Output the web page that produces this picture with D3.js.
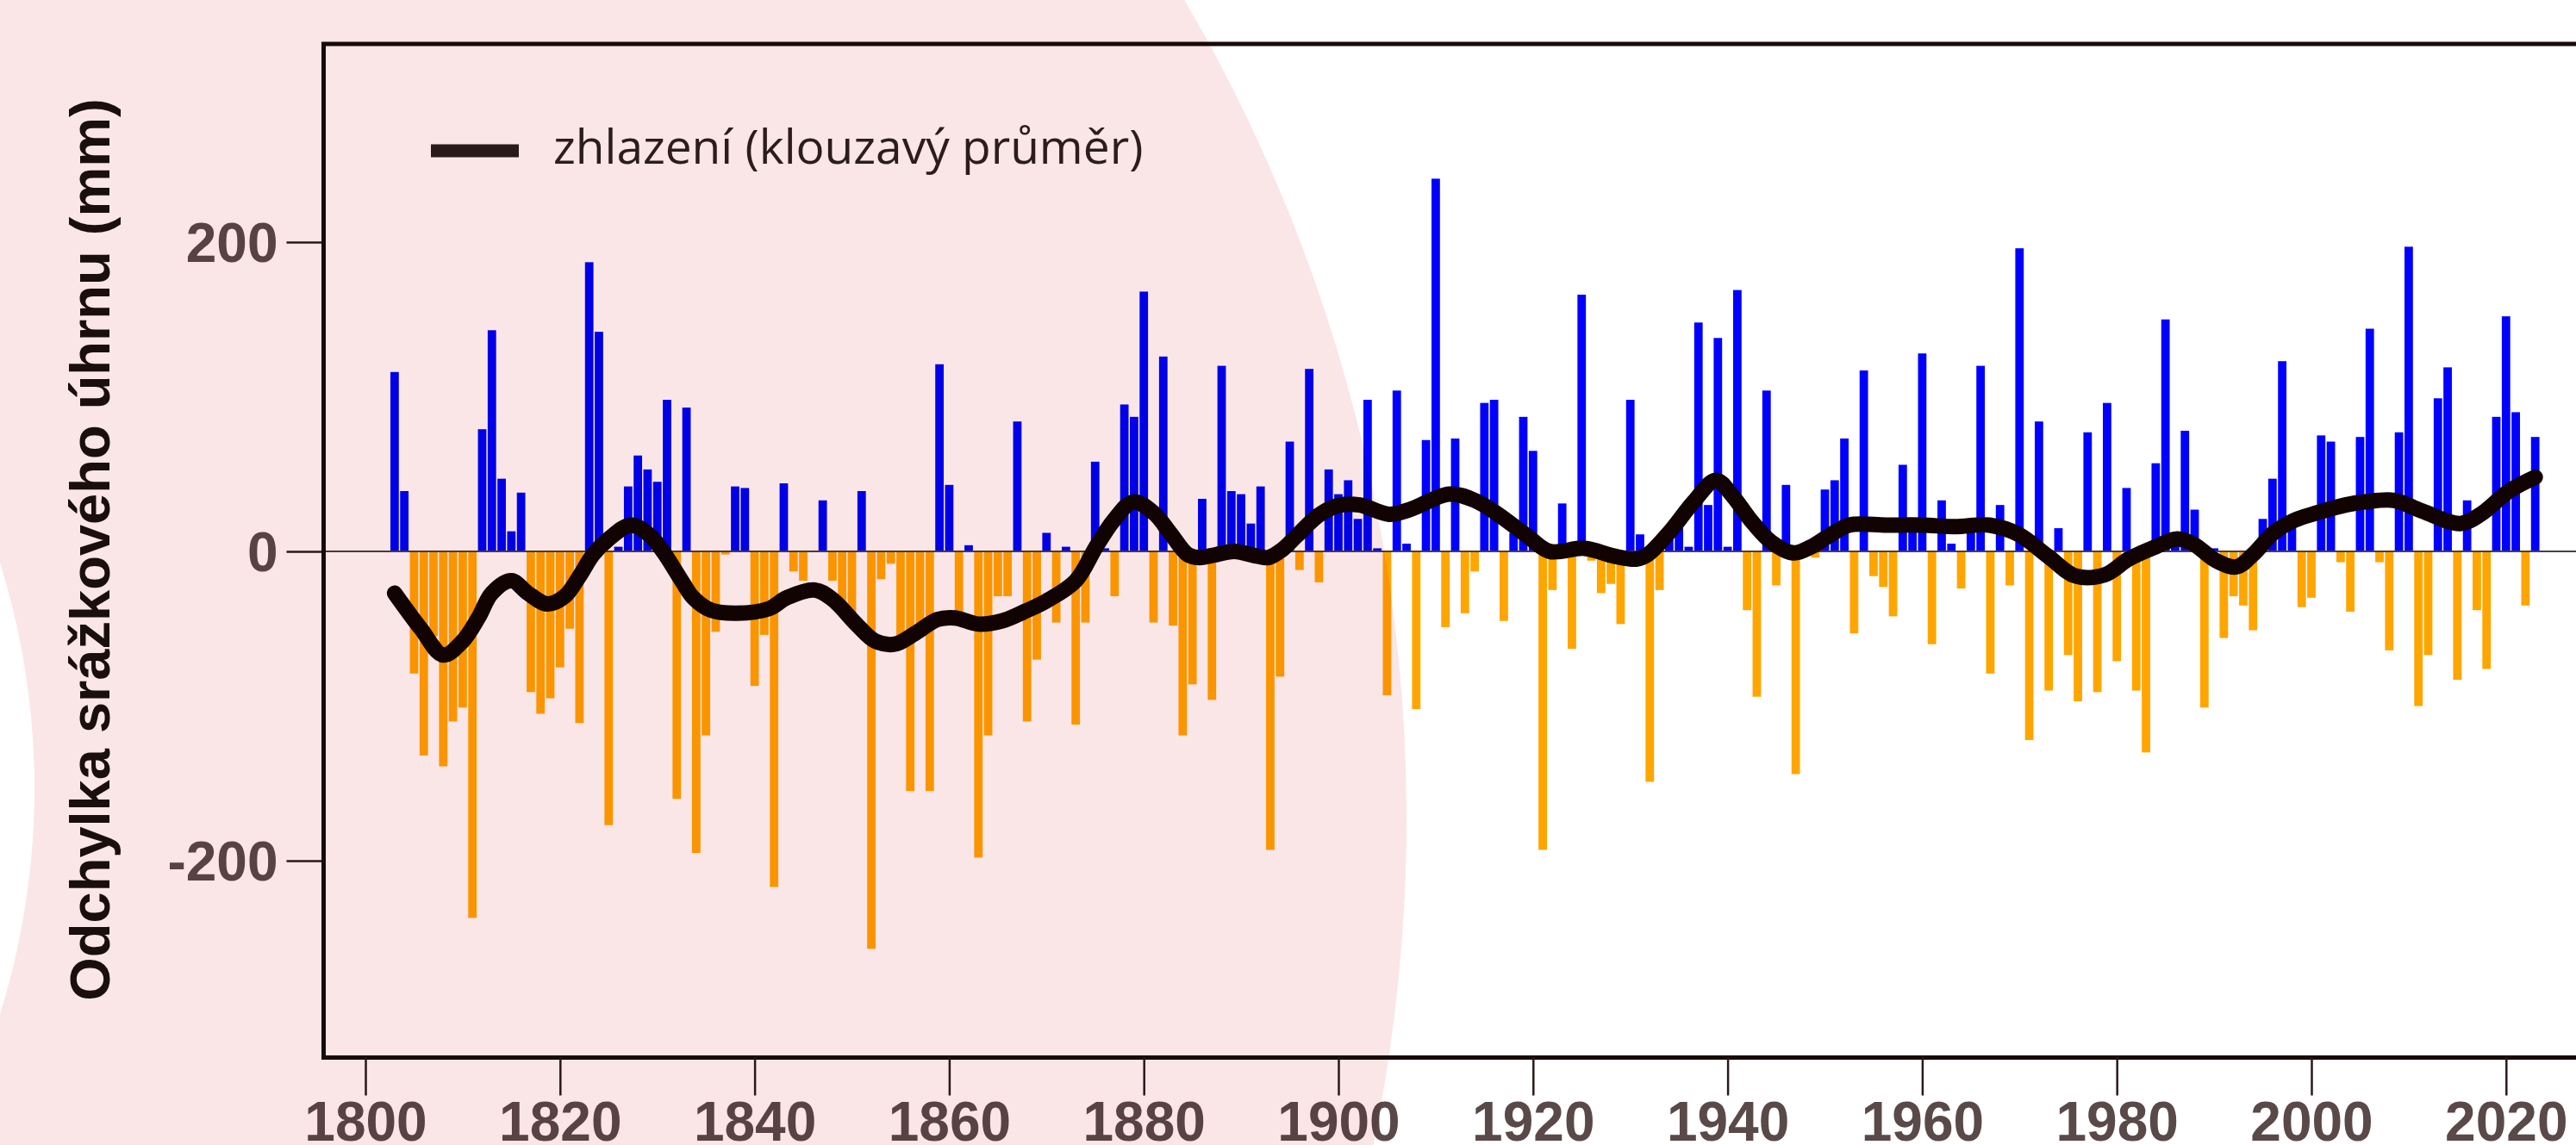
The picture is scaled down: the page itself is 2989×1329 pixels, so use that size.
<!DOCTYPE html>
<html>
<head>
<meta charset="utf-8">
<script src="https://cdn.jsdelivr.net/npm/d3@7"></script>
<style>
  html, body { margin: 0; padding: 0; background: #ffffff; }
  svg { display: block; }
</style>
</head>
<body>
<svg id="chart" width="2989" height="1329"></svg>
<script>
// ---------------- DATA ----------------
const firstYear = 1803;
// yearly precipitation anomaly (mm), 1803 ... 2023
const anomalies = [
  // 1803-1809
  116, 39, -79, -132, -55, -139, -110,
  // 1810-1819
  -101, -237, 79, 143, 47, 13, 38, -91, -105, -95,
  // 1820-1829
  -75, -50, -111, 187, 142, -177, 3, 42, 62, 53,
  // 1830-1839
  45, 98, -160, 93, -195, -119, -52, -2, 42, 41,
  // 1840-1849
  -87, -54, -217, 44, -13, -19, 0, 33, -19, -40,
  // 1850-1859
  -48, 39, -257, -18, -8, -60, -155, -47, -155, 121,
  // 1860-1869
  43, -42, 4, -198, -119, -29, -29, 84, -110, -70,
  // 1870-1879
  12, -46, 3, -112, -46, 58, 2, -29, 95, 87,
  // 1880-1889
  168, -46, 126, -48, -119, -86, 34, -96, 120, 39,
  // 1890-1899
  37, 18, 42, -193, -81, 71, -12, 118, -20, 53,
  // 1900-1909
  37, 46, 21, 98, 2, -93, 104, 5, -102, 72,
  // 1910-1919
  241, -49, 73, -40, -13, 96, 98, -45, 12, 87,
  // 1920-1929
  65, -193, -25, 31, -63, 166, -6, -27, -21, -47,
  // 1930-1939
  98, 11, -149, -25, 8, 15, 3, 148, 30, 138,
  // 1940-1949
  3, 169, -38, -94, 104, -22, 43, -144, 2, -4,
  // 1950-1959
  40, 46, 73, -53, 117, -16, -23, -42, 56, 20,
  // 1960-1969
  128, -60, 33, 5, -24, 15, 120, -79, 30, -22,
  // 1970-1979
  196, -122, 84, -90, 15, -67, -97, 77, -91, 96,
  // 1980-1989
  -71, 41, -90, -130, 57, 150, 5, 78, 27, -101,
  // 1990-1999
  2, -56, -29, -35, -51, 21, 47, 123, 17, -36,
  // 2000-2009
  -30, 75, 71, -7, -39, 74, 144, -7, -64, 77,
  // 2010-2019
  197, -100, -67, 99, 119, -83, 33, -38, -76, 87,
  // 2020-2023
  152, 90, -35, 74
];
const years = anomalies.map((v, i) => firstYear + i);

// smoothed curve (moving average)
const smoothYears = [1803, 1805.7, 1808, 1810, 1811.6, 1813, 1815, 1816.7, 1818.7, 1820.5,
  1822, 1823.4, 1825, 1827.3, 1829.3, 1830.8, 1832.6, 1833.7, 1835.5, 1838.2,
  1841.5, 1843.3, 1846.2, 1848, 1850.6, 1852.4, 1854.4, 1856.5, 1858.8, 1860.6,
  1863, 1865.4, 1867.7, 1870, 1873, 1875.1, 1876.9, 1878.9, 1881, 1882.7,
  1884.5, 1885.7, 1887.5, 1889.3, 1891.6, 1892.8, 1894.2, 1895.7, 1898.1, 1900.2,
  1902.2, 1905.2, 1907.3, 1911.4, 1914, 1916.4, 1919.4, 1921.7, 1925.3, 1928.3,
  1930.6, 1931.8, 1934.1, 1936.5, 1938.8, 1940.5, 1942.4, 1944.5, 1946.8, 1948.6,
  1950.4, 1952.5, 1956.3, 1960, 1963.4, 1966.9, 1969.9, 1972.9, 1975.8, 1978.8,
  1981.2, 1984, 1986.1, 1987.8, 1990.2, 1992.3, 1994, 1996.1, 1998.2, 2000.6,
  2003.5, 2005.5, 2008.5, 2011.4, 2015.3, 2017.4, 2020.3, 2023];
const smoothValues = [-27, -50, -67, -58, -43, -27, -19, -27, -34, -29,
  -16, -2, 8, 17, 10, -2, -20, -30, -38, -40,
  -37, -30, -25, -31, -48, -58, -60, -53, -44, -43,
  -47, -45, -39, -32, -19, 3, 20, 32, 25, 12,
  -2, -4, -2, 0, -3, -4, 1, 10, 24, 30,
  30, 24, 27, 37, 33, 24, 10, 0, 2, -3,
  -5, -2, 13, 32, 46, 36, 20, 6, -1, 3,
  10, 17, 17, 17, 16, 17, 11, -3, -16, -15,
  -5, 3, 8, 5, -6, -10, -2, 12, 20, 25,
  30, 32, 33, 26, 18, 24, 39, 48];

const xTickValues = [1800, 1820, 1840, 1860, 1880, 1900, 1920, 1940, 1960, 1980, 2000, 2020];
const yTickValues = [-200, 0, 200];
const legendLabel = "zhlazení (klouzavý průměr)";
const yTitle = "Odchylka srážkového úhrnu (mm)";

// ---------------- CHART ----------------
const svg = d3.select("#chart");
const W = 2989, H = 1329;

const frame = { left: 375.5, top: 51, bottom: 1227.5, right: 3100 };

const x = d3.scaleLinear().domain([1800, 2020]).range([424, 2907.8]);
const y = d3.scaleLinear().domain([-200, 200]).range([999, 281]);

svg.append("rect").attr("width", W).attr("height", H).attr("fill", "#ffffff");

// bars
const bw = 9.8;
svg.append("g").selectAll("rect")
  .data(years.map((yr, i) => ({ yr, v: anomalies[i] })))
  .join("rect")
  .attr("x", d => x(d.yr) - bw / 2)
  .attr("width", bw)
  .attr("y", d => d.v >= 0 ? y(d.v) : y(0))
  .attr("height", d => Math.abs(y(d.v) - y(0)))
  .attr("fill", d => d.v >= 0 ? "#0000ff" : "#ffa500");

// y axis (ticks + labels)
const yAxis = d3.axisLeft(y).tickValues(yTickValues).tickSize(43).tickPadding(10)
  .tickFormat(d => String(d));
const gy = svg.append("g").attr("transform", `translate(${frame.left},0)`).call(yAxis);
gy.select(".domain").remove();
gy.selectAll(".tick line").attr("stroke", "#2a1a1a").attr("stroke-width", 2.5);
gy.selectAll(".tick text")
  .attr("fill", "#5a4949")
  .style("font-family", "'Liberation Sans', Arial, sans-serif")
  .style("font-weight", "bold")
  .style("font-size", "64px")
  .attr("dy", "0.35em");

// zero line across plot
svg.append("line")
  .attr("x1", frame.left).attr("x2", W + 20)
  .attr("y1", y(0)).attr("y2", y(0))
  .attr("stroke", "#4a4040").attr("stroke-width", 2.2);

// smoothed line
const line = d3.line()
  .x(d => x(d[0])).y(d => y(d[1]))
  .curve(d3.curveCatmullRom.alpha(0.5));
svg.append("path")
  .datum(smoothYears.map((yr, i) => [yr, smoothValues[i]]))
  .attr("d", line)
  .attr("fill", "none")
  .attr("stroke", "#120303")
  .attr("stroke-width", 18)
  .attr("stroke-linejoin", "round")
  .attr("stroke-linecap", "round");

// frame
svg.append("path")
  .attr("d", `M${frame.right},${frame.top} L${frame.left},${frame.top} L${frame.left},${frame.bottom} L${frame.right},${frame.bottom}`)
  .attr("fill", "none")
  .attr("stroke", "#1a0a0a")
  .attr("stroke-width", 5);

// x axis
const xAxis = d3.axisBottom(x).tickValues(xTickValues).tickSize(44).tickPadding(7)
  .tickFormat(d => String(d));
const gx = svg.append("g").attr("transform", `translate(0,${frame.bottom})`).call(xAxis);
gx.select(".domain").remove();
gx.selectAll(".tick line").attr("stroke", "#2a1a1a").attr("stroke-width", 2.5);
gx.selectAll(".tick text")
  .attr("fill", "#5a4949")
  .style("font-family", "'Liberation Sans', Arial, sans-serif")
  .style("font-weight", "bold")
  .style("font-size", "64px");

// y title
svg.append("text")
  .attr("transform", `translate(127,638) rotate(-90)`)
  .attr("text-anchor", "middle")
  .attr("fill", "#1a0f0f")
  .style("font-family", "'Liberation Sans', Arial, sans-serif")
  .style("font-weight", "bold")
  .style("font-size", "65px")
  .text(yTitle);

// legend
svg.append("line")
  .attr("x1", 500).attr("x2", 602).attr("y1", 175).attr("y2", 175)
  .attr("stroke", "#2b1d1d").attr("stroke-width", 15);
svg.append("text")
  .attr("x", 642).attr("y", 190)
  .attr("fill", "#2d1f1f")
  .style("font-family", "'Open Sans', 'Noto Sans', sans-serif")
  .style("font-size", "55px")
  .text(legendLabel);

// decorative pink ring overlay (multiplied over the chart)
const outer = { cx: -248, cy: 950, r: 1880 };
const inner = { cx: -838, cy: 915, r: 878 };
const circ = c => `M${c.cx - c.r},${c.cy} a${c.r},${c.r} 0 1,0 ${2 * c.r},0 a${c.r},${c.r} 0 1,0 ${-2 * c.r},0 Z`;
svg.append("path")
  .attr("d", circ(outer) + " " + circ(inner))
  .attr("fill", "#fae6e7")
  .attr("fill-rule", "evenodd")
  .style("mix-blend-mode", "multiply")
  .style("pointer-events", "none");
</script>
</body>
</html>
